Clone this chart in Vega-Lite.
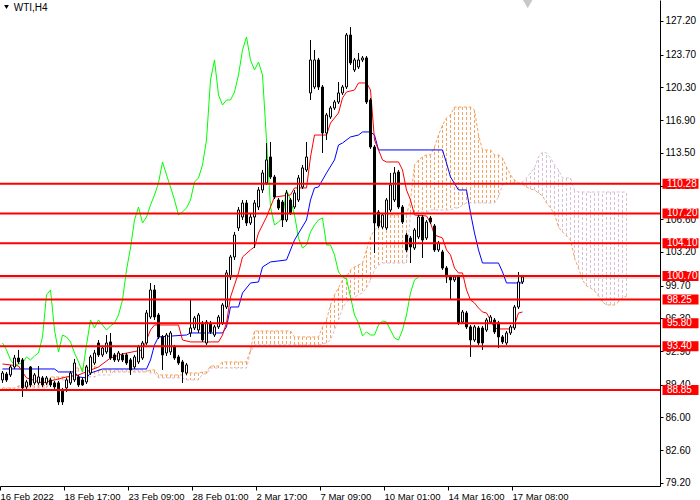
{
"$schema": "https://vega.github.io/schema/vega-lite/v6.json",
"width": 660, "height": 486,
"autosize": "none",
"padding": {"left": 0, "top": 0, "right": 40, "bottom": 14},
"background": "#ffffff",
"config": {"view": {"stroke": null}, "axis": {"grid": false, "domainColor": "#000000", "tickColor": "#000000", "labelColor": "#000000", "labelFont": "Liberation Sans", "labelFontSize": 10, "zindex": 0, "labelOverlap": false, "labelFlush": false, "labelBound": false}, "axisY": {"tickCount": 30}, "axisX": {"tickCount": 30}},
"datasets": {
"candles": [
{"i":0,"o":89.90,"h":90.83,"l":89.59,"c":90.62},{"i":1,"o":90.52,"h":90.73,"l":89.69,"c":89.90},{"i":2,"o":90.42,"h":91.46,"l":90.21,"c":91.25},{"i":3,"o":91.25,"h":92.50,"l":91.04,"c":92.18},{"i":4,"o":92.18,"h":93.02,"l":91.56,"c":91.77},{"i":5,"o":91.98,"h":92.18,"l":88.13,"c":89.07},{"i":6,"o":89.17,"h":89.90,"l":88.97,"c":89.69},{"i":7,"o":91.25,"h":91.35,"l":89.17,"c":89.38},{"i":8,"o":89.59,"h":90.62,"l":89.38,"c":90.42},{"i":9,"o":89.59,"h":91.35,"l":89.38,"c":90.21},
{"i":10,"o":90.11,"h":90.31,"l":89.17,"c":89.38},{"i":11,"o":89.59,"h":90.31,"l":89.38,"c":90.11},{"i":12,"o":89.90,"h":90.11,"l":89.17,"c":89.38},{"i":13,"o":89.59,"h":89.79,"l":88.97,"c":89.17},{"i":14,"o":89.59,"h":89.79,"l":87.30,"c":87.61},{"i":15,"o":88.86,"h":89.07,"l":87.30,"c":87.61},{"i":16,"o":89.07,"h":90.11,"l":88.65,"c":89.90},{"i":17,"o":89.59,"h":90.83,"l":89.38,"c":90.62},{"i":18,"o":89.90,"h":92.08,"l":89.69,"c":91.66},{"i":19,"o":90.21,"h":90.42,"l":89.17,"c":89.38},
{"i":20,"o":89.90,"h":90.11,"l":89.28,"c":89.38},{"i":21,"o":89.69,"h":91.46,"l":89.48,"c":91.25},{"i":22,"o":90.62,"h":92.50,"l":90.42,"c":92.29},{"i":23,"o":91.66,"h":93.02,"l":91.46,"c":92.70},{"i":24,"o":93.74,"h":94.05,"l":92.29,"c":92.50},{"i":25,"o":92.50,"h":93.43,"l":92.29,"c":93.22},{"i":26,"o":92.81,"h":94.57,"l":92.60,"c":93.74},{"i":27,"o":93.85,"h":94.78,"l":91.98,"c":92.18},{"i":28,"o":92.50,"h":92.70,"l":91.77,"c":91.98},{"i":29,"o":91.98,"h":92.91,"l":91.77,"c":92.70},
{"i":30,"o":92.50,"h":92.70,"l":91.77,"c":91.98},{"i":31,"o":92.50,"h":92.70,"l":91.46,"c":91.66},{"i":32,"o":91.98,"h":92.18,"l":90.42,"c":90.94},{"i":33,"o":91.25,"h":92.50,"l":91.04,"c":92.29},{"i":34,"o":91.77,"h":93.54,"l":91.56,"c":93.33},{"i":35,"o":92.18,"h":93.95,"l":91.98,"c":93.74},{"i":36,"o":93.74,"h":97.17,"l":93.54,"c":96.86},{"i":37,"o":96.44,"h":99.98,"l":96.24,"c":99.25},{"i":38,"o":99.25,"h":99.77,"l":96.13,"c":96.44},{"i":39,"o":96.65,"h":96.86,"l":94.16,"c":94.37},
{"i":40,"o":94.37,"h":94.57,"l":90.94,"c":92.50},{"i":41,"o":92.70,"h":94.78,"l":92.39,"c":94.57},{"i":42,"o":92.81,"h":94.99,"l":92.50,"c":94.78},{"i":43,"o":93.33,"h":93.54,"l":91.98,"c":92.18},{"i":44,"o":92.29,"h":92.50,"l":91.46,"c":91.66},{"i":45,"o":91.77,"h":91.98,"l":89.59,"c":90.73},{"i":46,"o":90.62,"h":91.66,"l":90.42,"c":91.46},{"i":47,"o":94.78,"h":98.21,"l":94.37,"c":95.30},{"i":48,"o":95.30,"h":96.55,"l":95.09,"c":96.34},{"i":49,"o":95.09,"h":96.86,"l":94.78,"c":96.65},
{"i":50,"o":95.82,"h":96.03,"l":93.85,"c":94.05},{"i":51,"o":93.74,"h":96.13,"l":93.54,"c":95.92},{"i":52,"o":95.82,"h":96.03,"l":94.68,"c":94.89},{"i":53,"o":94.57,"h":95.61,"l":94.37,"c":95.41},{"i":54,"o":95.41,"h":96.65,"l":95.20,"c":96.44},{"i":55,"o":95.82,"h":97.90,"l":95.61,"c":97.69},{"i":56,"o":97.48,"h":101.33,"l":97.27,"c":101.02},{"i":57,"o":100.60,"h":102.89,"l":100.29,"c":102.68},{"i":58,"o":102.68,"h":105.28,"l":102.37,"c":104.96},{"i":59,"o":105.69,"h":107.87,"l":105.38,"c":107.56},
{"i":60,"o":106.83,"h":108.60,"l":106.52,"c":108.29},{"i":61,"o":108.29,"h":108.60,"l":105.90,"c":106.21},{"i":62,"o":106.21,"h":107.15,"l":106.00,"c":106.83},{"i":63,"o":106.83,"h":108.60,"l":103.61,"c":108.29},{"i":64,"o":107.87,"h":109.95,"l":107.56,"c":109.64},{"i":65,"o":109.64,"h":111.72,"l":109.33,"c":111.41},{"i":66,"o":110.37,"h":114.52,"l":110.16,"c":112.76},{"i":67,"o":113.07,"h":114.63,"l":110.78,"c":110.99},{"i":68,"o":110.99,"h":111.20,"l":108.70,"c":108.91},{"i":69,"o":108.60,"h":108.81,"l":107.56,"c":107.77},
{"i":70,"o":108.39,"h":108.60,"l":105.79,"c":106.52},{"i":71,"o":106.52,"h":109.64,"l":106.31,"c":109.33},{"i":72,"o":108.60,"h":108.81,"l":107.04,"c":107.25},{"i":73,"o":107.87,"h":109.64,"l":107.67,"c":109.33},{"i":74,"o":108.60,"h":111.20,"l":108.39,"c":110.89},{"i":75,"o":109.95,"h":112.24,"l":109.74,"c":111.93},{"i":76,"o":111.72,"h":114.63,"l":111.51,"c":113.07},{"i":77,"o":119.72,"h":125.22,"l":118.99,"c":123.15},{"i":78,"o":120.34,"h":124.19,"l":120.13,"c":123.15},{"i":79,"o":123.15,"h":123.36,"l":120.03,"c":120.34},
{"i":80,"o":120.34,"h":120.55,"l":113.48,"c":115.56},{"i":81,"o":115.56,"h":117.64,"l":114.83,"c":117.43},{"i":82,"o":117.22,"h":118.37,"l":117.02,"c":118.16},{"i":83,"o":118.16,"h":118.99,"l":117.95,"c":118.78},{"i":84,"o":118.78,"h":120.86,"l":118.57,"c":119.72},{"i":85,"o":119.72,"h":120.55,"l":119.51,"c":120.34},{"i":86,"o":120.34,"h":125.95,"l":120.13,"c":125.74},{"i":87,"o":125.74,"h":126.57,"l":122.63,"c":122.84},{"i":88,"o":122.11,"h":123.36,"l":121.90,"c":123.15},{"i":89,"o":122.42,"h":123.87,"l":122.21,"c":123.15},
{"i":90,"o":123.15,"h":123.56,"l":122.94,"c":123.36},{"i":91,"o":123.36,"h":123.56,"l":118.57,"c":118.78},{"i":92,"o":118.99,"h":119.20,"l":113.90,"c":114.11},{"i":93,"o":114.11,"h":114.31,"l":103.09,"c":106.21},{"i":94,"o":107.35,"h":107.56,"l":105.69,"c":105.90},{"i":95,"o":105.79,"h":107.25,"l":105.59,"c":107.04},{"i":96,"o":105.69,"h":108.81,"l":105.48,"c":108.60},{"i":97,"o":107.56,"h":111.41,"l":107.35,"c":110.16},{"i":98,"o":108.60,"h":112.03,"l":108.39,"c":111.41},{"i":99,"o":111.51,"h":111.72,"l":107.67,"c":107.87},
{"i":100,"o":107.87,"h":108.08,"l":106.11,"c":106.31},{"i":101,"o":104.96,"h":105.17,"l":103.20,"c":103.41},{"i":102,"o":104.65,"h":104.86,"l":102.05,"c":103.72},{"i":103,"o":103.61,"h":105.69,"l":103.41,"c":105.48},{"i":104,"o":104.76,"h":107.04,"l":104.55,"c":106.83},{"i":105,"o":106.83,"h":107.04,"l":102.57,"c":104.44},{"i":106,"o":104.65,"h":106.52,"l":104.44,"c":106.31},{"i":107,"o":106.73,"h":106.94,"l":106.11,"c":106.31},{"i":108,"o":105.90,"h":106.11,"l":103.20,"c":103.41},{"i":109,"o":103.41,"h":104.34,"l":103.20,"c":104.13},
{"i":110,"o":103.20,"h":103.41,"l":101.33,"c":101.53},{"i":111,"o":101.53,"h":101.74,"l":99.98,"c":100.60},{"i":112,"o":100.60,"h":100.81,"l":98.21,"c":100.29},{"i":113,"o":100.29,"h":100.81,"l":100.08,"c":100.60},{"i":114,"o":100.60,"h":100.81,"l":95.61,"c":95.82},{"i":115,"o":95.92,"h":97.17,"l":95.72,"c":96.96},{"i":116,"o":96.86,"h":97.07,"l":95.20,"c":95.41},{"i":117,"o":95.41,"h":95.61,"l":92.29,"c":94.05},{"i":118,"o":94.05,"h":95.61,"l":93.85,"c":95.41},{"i":119,"o":95.30,"h":95.51,"l":93.54,"c":93.74},
{"i":120,"o":95.30,"h":95.51,"l":93.02,"c":93.74},{"i":121,"o":95.09,"h":96.34,"l":94.89,"c":96.13},{"i":122,"o":95.92,"h":96.65,"l":95.72,"c":96.44},{"i":123,"o":96.13,"h":96.34,"l":94.68,"c":94.89},{"i":124,"o":95.82,"h":96.03,"l":93.22,"c":94.37},{"i":125,"o":94.37,"h":94.57,"l":93.64,"c":93.85},{"i":126,"o":93.74,"h":94.99,"l":93.54,"c":94.78},{"i":127,"o":94.78,"h":95.61,"l":94.57,"c":95.41},{"i":128,"o":95.30,"h":97.69,"l":95.09,"c":97.48},{"i":129,"o":97.48,"h":101.12,"l":97.27,"c":100.08},
{"i":130,"o":100.08,"h":100.81,"l":99.87,"c":100.60}
],
"tenkan": [
{"i":0,"v":91.56},{"i":4,"v":91.35},{"i":6,"v":90.11},{"i":10,"v":89.59},{"i":13,"v":89.90},{"i":16,"v":90.21},{"i":19,"v":90.42},{"i":24,"v":91.25},{"i":27,"v":92.18},{"i":30,"v":92.60},{"i":35,"v":93.02},{"i":37,"v":95.09},{"i":38,"v":95.61},{"i":44,"v":95.61},{"i":45,"v":94.05},{"i":47,"v":93.85},{"i":54,"v":93.85},{"i":55,"v":94.57},{"i":56,"v":95.82},{"i":57,"v":98.52},{"i":59,"v":101.02},{"i":60,"v":102.68},{"i":62,"v":103.41},{"i":63,"v":103.72},{"i":64,"v":105.17},{"i":66,"v":106.83},{"i":67,"v":107.87},{"i":68,"v":108.91},{"i":72,"v":109.12},{"i":73,"v":109.85},{"i":76,"v":109.85},{"i":77,"v":113.07},{"i":78,"v":115.35},{"i":81,"v":115.35},{"i":82,"v":116.60},{"i":84,"v":117.64},{"i":85,"v":119.20},{"i":86,"v":119.82},{"i":88,"v":120.03},{"i":89,"v":120.76},{"i":91,"v":120.76},{"i":92,"v":120.03},{"i":93,"v":114.83},{"i":94,"v":113.80},{"i":95,"v":112.76},{"i":96,"v":112.55},{"i":99,"v":112.55},{"i":100,"v":111.72},{"i":101,"v":109.64},{"i":102,"v":108.60},{"i":103,"v":107.04},{"i":106,"v":106.94},{"i":107,"v":106.21},{"i":108,"v":104.96},{"i":110,"v":104.65},{"i":111,"v":103.41},{"i":112,"v":102.89},{"i":113,"v":101.53},{"i":114,"v":101.02},{"i":115,"v":101.02},{"i":116,"v":99.25},{"i":117,"v":98.21},{"i":118,"v":97.90},{"i":119,"v":97.38},{"i":120,"v":96.96},{"i":121,"v":96.86},{"i":122,"v":96.13},{"i":123,"v":95.30},{"i":124,"v":95.20},{"i":127,"v":95.20},{"i":128,"v":95.61},{"i":129,"v":96.86},{"i":130,"v":96.96}
],
"kijun": [
{"i":0,"v":91.04},{"i":13,"v":91.04},{"i":14,"v":90.73},{"i":18,"v":90.73},{"i":19,"v":90.21},{"i":21,"v":90.11},{"i":22,"v":90.62},{"i":25,"v":91.04},{"i":36,"v":91.04},{"i":37,"v":91.98},{"i":38,"v":93.54},{"i":39,"v":94.37},{"i":46,"v":94.57},{"i":47,"v":94.78},{"i":55,"v":94.78},{"i":56,"v":95.41},{"i":57,"v":97.48},{"i":59,"v":97.48},{"i":60,"v":98.94},{"i":62,"v":99.98},{"i":64,"v":100.08},{"i":65,"v":101.64},{"i":67,"v":102.16},{"i":71,"v":102.37},{"i":73,"v":104.44},{"i":76,"v":106.52},{"i":77,"v":108.60},{"i":78,"v":109.85},{"i":79,"v":109.95},{"i":81,"v":111.41},{"i":83,"v":112.76},{"i":84,"v":114.31},{"i":85,"v":114.52},{"i":87,"v":115.15},{"i":89,"v":115.35},{"i":90,"v":115.67},{"i":92,"v":115.67},{"i":93,"v":115.35},{"i":94,"v":113.80},{"i":110,"v":113.80},{"i":111,"v":112.44},{"i":112,"v":110.99},{"i":114,"v":109.64},{"i":116,"v":109.64},{"i":117,"v":107.25},{"i":118,"v":105.17},{"i":119,"v":103.41},{"i":120,"v":102.05},{"i":124,"v":102.05},{"i":125,"v":101.12},{"i":126,"v":99.98},{"i":130,"v":99.98}
],
"chikou": [
{"i":0,"v":93.74},{"i":1,"v":93.02},{"i":2,"v":91.98},{"i":3,"v":91.46},{"i":4,"v":91.56},{"i":5,"v":91.66},{"i":6,"v":92.29},{"i":7,"v":91.98},{"i":8,"v":92.39},{"i":9,"v":92.70},{"i":10,"v":94.37},{"i":11,"v":98.73},{"i":12,"v":99.25},{"i":13,"v":95.09},{"i":14,"v":92.81},{"i":15,"v":94.57},{"i":16,"v":94.37},{"i":17,"v":93.85},{"i":18,"v":92.70},{"i":19,"v":91.77},{"i":20,"v":90.73},{"i":21,"v":93.54},{"i":22,"v":96.13},{"i":23,"v":95.30},{"i":24,"v":96.13},{"i":25,"v":95.61},{"i":26,"v":95.09},{"i":27,"v":95.51},{"i":28,"v":95.82},{"i":29,"v":96.65},{"i":30,"v":98.21},{"i":31,"v":101.33},{"i":32,"v":103.61},{"i":33,"v":106.52},{"i":34,"v":107.87},{"i":35,"v":106.21},{"i":36,"v":106.83},{"i":37,"v":108.08},{"i":38,"v":109.12},{"i":39,"v":110.37},{"i":40,"v":112.55},{"i":41,"v":111.20},{"i":42,"v":109.95},{"i":43,"v":108.60},{"i":44,"v":107.04},{"i":45,"v":107.35},{"i":46,"v":107.77},{"i":47,"v":108.60},{"i":48,"v":110.47},{"i":49,"v":110.89},{"i":50,"v":112.24},{"i":51,"v":114.83},{"i":52,"v":121.07},{"i":53,"v":123.15},{"i":54,"v":119.51},{"i":55,"v":118.47},{"i":56,"v":118.99},{"i":57,"v":118.99},{"i":58,"v":119.82},{"i":59,"v":121.59},{"i":60,"v":124.19},{"i":61,"v":125.54},{"i":62,"v":123.15},{"i":63,"v":122.11},{"i":64,"v":122.94},{"i":65,"v":121.59},{"i":66,"v":114.83},{"i":67,"v":107.87},{"i":68,"v":106.00},{"i":69,"v":106.31},{"i":70,"v":106.73},{"i":71,"v":109.64},{"i":72,"v":108.60},{"i":73,"v":107.04},{"i":74,"v":104.65},{"i":75,"v":103.61},{"i":76,"v":103.92},{"i":77,"v":105.28},{"i":78,"v":106.00},{"i":79,"v":106.52},{"i":80,"v":106.73},{"i":81,"v":103.92},{"i":82,"v":103.92},{"i":83,"v":102.89},{"i":84,"v":101.12},{"i":85,"v":100.60},{"i":86,"v":100.39},{"i":87,"v":98.52},{"i":88,"v":96.65},{"i":89,"v":95.82},{"i":90,"v":94.47},{"i":91,"v":94.89},{"i":92,"v":94.57},{"i":93,"v":94.57},{"i":94,"v":95.61},{"i":95,"v":96.03},{"i":96,"v":95.92},{"i":97,"v":95.09},{"i":98,"v":94.26},{"i":99,"v":94.05},{"i":100,"v":95.09},{"i":101,"v":96.65},{"i":102,"v":98.94},{"i":103,"v":100.29},{"i":104,"v":100.60}
],
"cloud": [
{"i":0,"a":89.07,"b":88.86},{"i":1,"a":89.07,"b":88.86},{"i":2,"a":89.07,"b":88.86},{"i":3,"a":89.07,"b":88.86},{"i":4,"a":89.28,"b":89.07},{"i":5,"a":89.28,"b":89.07},{"i":6,"a":89.28,"b":89.07},{"i":7,"a":89.28,"b":89.07},{"i":8,"a":89.28,"b":89.07},{"i":9,"a":89.28,"b":89.07},{"i":10,"a":89.28,"b":89.07},{"i":11,"a":89.28,"b":89.07},
{"i":12,"a":90.21,"b":89.90},{"i":13,"a":90.21,"b":89.90},{"i":14,"a":90.21,"b":89.90},{"i":15,"a":90.21,"b":89.90},{"i":16,"a":90.21,"b":89.90},{"i":17,"a":90.21,"b":89.90},{"i":18,"a":91.14,"b":90.83},{"i":19,"a":91.14,"b":90.83},{"i":20,"a":91.14,"b":90.83},{"i":21,"a":91.35,"b":90.21},{"i":22,"a":91.35,"b":90.21},{"i":23,"a":91.35,"b":90.21},{"i":24,"a":90.94,"b":90.42},{"i":25,"a":90.94,"b":90.42},{"i":26,"a":90.94,"b":90.42},{"i":27,"a":90.94,"b":90.42},
{"i":28,"a":90.73,"b":90.94},{"i":29,"a":90.73,"b":90.94},{"i":30,"a":90.73,"b":90.94},{"i":31,"a":90.73,"b":90.94},{"i":32,"a":90.73,"b":90.94},{"i":33,"a":90.73,"b":90.94},{"i":34,"a":90.73,"b":90.94},{"i":35,"a":90.73,"b":90.94},{"i":36,"a":90.73,"b":90.94},{"i":37,"a":90.94,"b":90.62},{"i":38,"a":90.94,"b":90.62},
{"i":39,"a":90.42,"b":90.11},{"i":40,"a":90.42,"b":90.11},{"i":41,"a":90.42,"b":90.11},{"i":42,"a":90.42,"b":90.11},{"i":43,"a":90.42,"b":90.11},{"i":44,"a":90.42,"b":90.11},{"i":45,"a":90.42,"b":90.11},{"i":46,"a":90.62,"b":89.90},{"i":47,"a":90.62,"b":89.90},{"i":48,"a":90.62,"b":89.90},{"i":49,"a":90.62,"b":89.90},{"i":50,"a":90.73,"b":90.52},{"i":51,"a":90.73,"b":90.52},
{"i":52,"a":91.35,"b":91.14},{"i":53,"a":91.35,"b":91.14},{"i":54,"a":91.35,"b":91.14},{"i":55,"a":91.77,"b":91.14},{"i":56,"a":91.77,"b":91.14},{"i":57,"a":91.77,"b":91.14},{"i":58,"a":91.77,"b":91.14},{"i":59,"a":91.77,"b":91.14},{"i":60,"a":91.77,"b":91.14},{"i":61,"a":91.77,"b":91.14},{"i":62,"a":93.02,"b":92.81},
{"i":63,"a":94.99,"b":93.54},{"i":64,"a":94.99,"b":93.54},{"i":65,"a":94.99,"b":93.54},{"i":66,"a":94.99,"b":93.54},{"i":67,"a":94.99,"b":93.54},{"i":68,"a":94.99,"b":93.54},{"i":69,"a":94.99,"b":93.54},{"i":70,"a":94.99,"b":93.54},{"i":71,"a":94.99,"b":93.54},{"i":72,"a":94.99,"b":93.54},
{"i":73,"a":94.37,"b":93.54},{"i":74,"a":94.37,"b":93.54},{"i":75,"a":94.37,"b":93.54},{"i":76,"a":94.37,"b":93.54},{"i":77,"a":94.37,"b":93.54},{"i":78,"a":94.37,"b":93.54},{"i":79,"a":94.37,"b":93.54},{"i":80,"a":95.41,"b":93.64},{"i":81,"a":96.13,"b":93.74},{"i":82,"a":97.69,"b":94.05},{"i":83,"a":98.73,"b":95.09},{"i":84,"a":99.46,"b":96.13},{"i":85,"a":100.29,"b":97.38},{"i":86,"a":100.60,"b":98.00},{"i":87,"a":101.33,"b":98.31},{"i":88,"a":101.64,"b":98.52},{"i":89,"a":101.85,"b":98.73},
{"i":90,"a":102.05,"b":98.94},{"i":91,"a":103.41,"b":99.46},{"i":92,"a":104.76,"b":100.29},{"i":93,"a":105.48,"b":101.33},{"i":94,"a":105.79,"b":101.85},{"i":95,"a":106.83,"b":102.05},{"i":96,"a":107.04,"b":102.05},{"i":97,"a":107.04,"b":102.05},{"i":98,"a":107.04,"b":102.05},{"i":99,"a":107.04,"b":102.05},{"i":100,"a":107.04,"b":102.05},{"i":101,"a":107.04,"b":102.05},
{"i":102,"a":108.60,"b":107.25},{"i":103,"a":112.24,"b":107.25},{"i":104,"a":112.76,"b":107.35},{"i":105,"a":113.07,"b":107.35},{"i":106,"a":113.28,"b":107.35},{"i":107,"a":113.28,"b":107.56},{"i":108,"a":114.11,"b":107.56},{"i":109,"a":115.35,"b":107.56},{"i":110,"a":116.39,"b":107.56},{"i":111,"a":117.12,"b":107.56},{"i":112,"a":117.43,"b":107.56},{"i":113,"a":118.26,"b":107.77},{"i":114,"a":118.26,"b":107.77},{"i":115,"a":118.26,"b":108.08},{"i":116,"a":118.26,"b":108.29},{"i":117,"a":118.26,"b":108.29},{"i":118,"a":117.95,"b":108.29},{"i":119,"a":115.35,"b":108.29},
{"i":120,"a":113.80,"b":108.29},{"i":121,"a":113.80,"b":108.29},{"i":122,"a":113.80,"b":108.29},{"i":123,"a":113.28,"b":108.29},{"i":124,"a":113.28,"b":108.91},{"i":125,"a":112.97,"b":110.16},{"i":126,"a":112.03,"b":110.26},{"i":127,"a":111.20,"b":110.37},{"i":128,"a":110.68,"b":110.37},{"i":129,"a":110.37,"b":110.37},
{"i":130,"a":110.26,"b":110.47},{"i":131,"a":109.95,"b":110.89},{"i":132,"a":109.74,"b":111.41},{"i":133,"a":109.64,"b":111.93},{"i":134,"a":109.33,"b":113.07},{"i":135,"a":109.02,"b":113.59},{"i":136,"a":108.29,"b":113.48},{"i":137,"a":107.77,"b":112.97},{"i":138,"a":107.15,"b":112.24},{"i":139,"a":105.79,"b":111.72},
{"i":140,"a":105.28,"b":110.89},{"i":141,"a":104.86,"b":110.89},{"i":142,"a":104.44,"b":110.89},{"i":143,"a":102.57,"b":109.64},{"i":144,"a":101.53,"b":109.43},{"i":145,"a":100.29,"b":109.43},{"i":146,"a":99.67,"b":109.43},{"i":147,"a":99.46,"b":109.43},{"i":148,"a":99.15,"b":109.43},{"i":149,"a":98.63,"b":109.43},
{"i":150,"a":98.00,"b":109.43},{"i":151,"a":97.69,"b":109.43},{"i":152,"a":97.69,"b":109.43},{"i":153,"a":97.69,"b":109.43},{"i":154,"a":98.00,"b":109.43},{"i":155,"a":98.42,"b":109.43},{"i":156,"a":98.63,"b":109.43}
],
"levels": [{"v":110.28},{"v":107.20},{"v":104.10},{"v":100.70},{"v":98.25},{"v":95.80},{"v":93.40},{"v":88.85}]
},
"layer": [
{"data":{"name":"cloud"},
 "mark":{"type":"rule","strokeWidth":1,"strokeDash":[3,2]},
 "encoding":{
  "x":{"field":"i","type":"quantitative","title":null,"scale":{"domain":[-0.625,164.375],"nice":false,"zero":false,"padding":0},
   "axis":{"title":null,"orient":"bottom","tickCount":30,"values":[-0.625,15.375,31.375,47.375,63.375,79.375,95.375,111.375,127.375],
    "labelExpr":"['16 Feb 2022','18 Feb 17:00','23 Feb 09:00','28 Feb 01:00','2 Mar 17:00','7 Mar 09:00','10 Mar 01:00','14 Mar 16:00','17 Mar 08:00'][round((datum.value+0.625)/16)]",
    "labelAlign":"left","labelBaseline":"top","labelPadding":1,"labelDx":1,"tickSize":4,"labelFontSize":9.5,"labelOverlap":false,"labelFlush":false,"labelBound":false}},
  "y":{"field":"a","type":"quantitative","title":null,"scale":{"domain":[78.88,129.38],"nice":false,"zero":false,"padding":0},
   "axis":{"title":null,"orient":"right","tickCount":30,"values":[127.2,123.7,120.3,116.9,113.5,110.1,106.6,103.2,99.7,96.3,92.9,89.4,86.0,82.6,79.2],
    "format":".2f","tickSize":3,"labelPadding":2,"labelOverlap":false,"labelFlush":false,"labelBound":false}},
  "y2":{"field":"b"},
  "color":{"condition":{"test":"datum.a >= datum.b","value":"#f4a460"},"value":"#d8bfd8"}
 }},
{"data":{"name":"cloud"},
 "mark":{"type":"line","strokeWidth":1,"strokeDash":[3,2],"color":"#d8bfd8"},
 "encoding":{"x":{"field":"i","type":"quantitative","title":null},"y":{"field":"b","type":"quantitative","title":null}}},
{"data":{"name":"cloud"},
 "mark":{"type":"line","strokeWidth":1,"strokeDash":[3,2],"color":"#f4a460"},
 "encoding":{"x":{"field":"i","type":"quantitative","title":null},"y":{"field":"a","type":"quantitative","title":null}}},
{"data":{"values":[{}]},
 "mark":{"type":"rule","color":"#c0c0c0","strokeWidth":1},
 "encoding":{"y":{"datum":100.5,"type":"quantitative"}}},
{"data":{"name":"chikou"},
 "mark":{"type":"line","strokeWidth":1,"color":"#00ff00"},
 "encoding":{"x":{"field":"i","type":"quantitative","title":null},"y":{"field":"v","type":"quantitative","title":null}}},
{"data":{"name":"kijun"},
 "mark":{"type":"line","strokeWidth":1,"color":"#0000ff"},
 "encoding":{"x":{"field":"i","type":"quantitative","title":null},"y":{"field":"v","type":"quantitative","title":null}}},
{"data":{"name":"tenkan"},
 "mark":{"type":"line","strokeWidth":1,"color":"#ff0000"},
 "encoding":{"x":{"field":"i","type":"quantitative","title":null},"y":{"field":"v","type":"quantitative","title":null}}},
{"data":{"name":"candles"},
 "mark":{"type":"rule","strokeWidth":1,"color":"#000000"},
 "encoding":{"x":{"field":"i","type":"quantitative","title":null},"y":{"field":"l","type":"quantitative","title":null},"y2":{"field":"h"}}},
{"data":{"name":"candles"},
 "mark":{"type":"bar","size":2,"stroke":"#000000","strokeWidth":1},
 "encoding":{"x":{"field":"i","type":"quantitative","title":null},"y":{"field":"o","type":"quantitative","title":null},"y2":{"field":"c"},
  "fill":{"condition":{"test":"datum.c >= datum.o","value":"#ffffff"},"value":"#000000"}}},
{"data":{"name":"levels"},
 "mark":{"type":"rule","strokeWidth":2,"color":"#ff0000"},
 "encoding":{"y":{"field":"v","type":"quantitative","title":null}}},
{"data":{"name":"levels"},
 "mark":{"type":"rule","strokeWidth":10,"color":"#ff0000","strokeCap":"butt"},
 "encoding":{"x":{"datum":165.0,"type":"quantitative"},"x2":{"datum":174.0},"y":{"field":"v","type":"quantitative","title":null}}},
{"data":{"name":"levels"},
 "mark":{"type":"text","align":"left","baseline":"middle","color":"#ffffff","font":"Liberation Sans","fontSize":10},
 "encoding":{"x":{"datum":166.1,"type":"quantitative"},"y":{"field":"v","type":"quantitative","title":null},"text":{"field":"v","type":"quantitative","format":".2f"}}},
{"data":{"values":[{}]},
 "mark":{"type":"point","shape":"triangle-down","filled":true,"size":22,"color":"#000000","opacity":1},
 "encoding":{"x":{"datum":1.0,"type":"quantitative"},"y":{"datum":128.65,"type":"quantitative"}}},
{"data":{"values":[{}]},
 "mark":{"type":"text","text":"WTI,H4","align":"left","baseline":"middle","color":"#000000","font":"Liberation Sans","fontSize":10},
 "encoding":{"x":{"datum":2.8,"type":"quantitative"},"y":{"datum":128.6,"type":"quantitative"}}},
{"data":{"values":[{}]},
 "mark":{"type":"point","shape":"triangle-down","filled":true,"size":90,"color":"#c8c8c8","opacity":1},
 "encoding":{"x":{"datum":131.3,"type":"quantitative"},"y":{"datum":128.95,"type":"quantitative"}}}
]
}
